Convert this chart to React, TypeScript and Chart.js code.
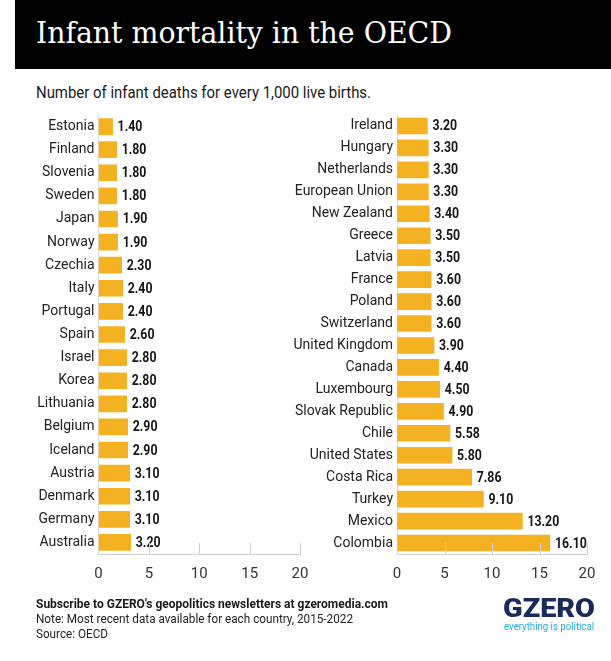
import React, { useEffect, useRef, useLayoutEffect } from "react";
import { Chart, registerables } from "chart.js";

Chart.register(...registerables);

const leftCountries = [
  "Estonia", "Finland", "Slovenia", "Sweden", "Japan", "Norway", "Czechia", "Italy", "Portugal", "Spain",
  "Israel", "Korea", "Lithuania", "Belgium", "Iceland", "Austria", "Denmark", "Germany", "Australia",
];
const leftValues = [1.4, 1.8, 1.8, 1.8, 1.9, 1.9, 2.3, 2.4, 2.4, 2.6, 2.8, 2.8, 2.8, 2.9, 2.9, 3.1, 3.1, 3.1, 3.2];

const rightCountries = [
  "Ireland", "Hungary", "Netherlands", "European Union", "New Zealand", "Greece", "Latvia", "France", "Poland",
  "Switzerland", "United Kingdom", "Canada", "Luxembourg", "Slovak Republic", "Chile", "United States",
  "Costa Rica", "Turkey", "Mexico", "Colombia",
];
const rightValues = [3.2, 3.3, 3.3, 3.3, 3.4, 3.5, 3.5, 3.6, 3.6, 3.6, 3.9, 4.4, 4.5, 4.9, 5.58, 5.8, 7.86, 9.1, 13.2, 16.1];

const xTickValues = [0, 5, 10, 15, 20];

const BAR_COLOR = "#F4B223";

const valueLabels = {
  id: "valueLabels",
  afterDatasetsDraw(chart: any) {
    const ctx = chart.ctx;
    const meta = chart.getDatasetMeta(0);
    const data = chart.data.datasets[0].data;
    ctx.save();
    ctx.font = "bold 14px Roboto";
    ctx.fillStyle = "#151515";
    ctx.textBaseline = "middle";
    ctx.textAlign = "left";
    meta.data.forEach((bar: any, i: number) => {
      ctx.save();
      ctx.translate(bar.x + 5, bar.y + 1);
      ctx.scale(0.88, 1);
      ctx.fillText(Number(data[i]).toFixed(2), 0, 0);
      ctx.restore();
    });
    ctx.restore();
  },
};

const upTicks = {
  id: "upTicks",
  afterDraw(chart: any) {
    const ctx = chart.ctx;
    const xs = chart.scales.x;
    const bottom = chart.chartArea.bottom;
    ctx.save();
    ctx.strokeStyle = "#cfcfcf";
    ctx.lineWidth = 1;
    ctx.beginPath();
    xs.ticks.forEach((t: any) => {
      if (t.value <= 0) return;
      const x = Math.round(xs.getPixelForValue(t.value)) + 0.5;
      ctx.moveTo(x, bottom - 11);
      ctx.lineTo(x, bottom);
    });
    ctx.stroke();
    ctx.restore();
  },
};

function makeChart(canvas: HTMLCanvasElement, labels: string[], values: number[], yWidth: number, padRight: number) {
  return new Chart(canvas, {
    type: "bar",
    data: {
      labels,
      datasets: [{ data: values, backgroundColor: BAR_COLOR, barThickness: 16, borderWidth: 0 }],
    },
    options: {
      indexAxis: "y",
      animation: false,
      responsive: false,
      maintainAspectRatio: false,
      layout: { padding: { top: 15, right: padRight, left: 0, bottom: 0 } },
      plugins: { legend: { display: false }, tooltip: { enabled: false } },
      scales: {
        x: {
          min: 0,
          max: 20,
          afterBuildTicks: (s: any) => {
            s.ticks = xTickValues.map((v) => ({ value: v }));
          },
          grid: { drawOnChartArea: false, drawTicks: false, color: "#cfcfcf" },
          border: { display: true, color: "#cfcfcf", width: 1 },
          ticks: { padding: 11, color: "#333", font: { family: "Roboto", size: 15 } },
          afterFit: (s: any) => {
            s.height = 46;
            s.paddingLeft = 0;
            s.paddingRight = 0;
          },
        },
        y: {
          grid: { drawOnChartArea: false, drawTicks: false },
          border: { display: true, color: "#d9d9d9", width: 1 },
          ticks: { padding: 4, color: "#222", font: { family: "Roboto", size: 14 }, autoSkip: false },
          afterFit: (s: any) => {
            s.width = yWidth;
            s.paddingTop = 0;
            s.paddingBottom = 0;
          },
        },
      },
    } as any,
    plugins: [valueLabels, upTicks],
  });
}

function BarPanel(props: { labels: string[]; values: number[]; left: number; width: number; yWidth: number; padRight: number }) {
  const ref = useRef<HTMLCanvasElement>(null);
  useEffect(() => {
    const chart = makeChart(ref.current!, props.labels, props.values, props.yWidth, props.padRight);
    return () => chart.destroy();
  }, []);
  return (
    <canvas
      ref={ref}
      width={props.width}
      height={500}
      style={{ position: "absolute", left: props.left, top: 100, width: props.width, height: 500 }}
    />
  );
}

function FitText(props: { width: number; style: React.CSSProperties; children: React.ReactNode }) {
  const ref = useRef<HTMLDivElement>(null);
  useLayoutEffect(() => {
    const el = ref.current!;
    el.style.transform = "none";
    const w = el.getBoundingClientRect().width;
    if (w > 0) el.style.transform = `scaleX(${props.width / w})`;
  }, []);
  return (
    <div
      ref={ref}
      style={{ position: "absolute", whiteSpace: "nowrap", transformOrigin: "left center", lineHeight: 1, ...props.style }}
    >
      {props.children}
    </div>
  );
}

export default function App() {
  return (
    <div style={{ position: "absolute", left: 0, top: 0, width: 611, height: 661, background: "#fff", overflow: "hidden" }}>
      <div style={{ position: "absolute", left: 15, top: 0, width: 596, height: 69, background: "#000" }} />
      <FitText width={416} style={{ left: 36, top: 17.5, fontFamily: "'DejaVu Serif'", fontSize: 30, color: "#fff" }}>
        Infant mortality in the OECD
      </FitText>
      <FitText width={335} style={{ left: 36, top: 85.2, fontFamily: "Roboto", fontSize: 16, color: "#1a1a1a" }}>
        Number of infant deaths for every 1,000 live births.
      </FitText>

      <BarPanel labels={leftCountries} values={leftValues} left={0} width={310} yWidth={98.5} padRight={10} />
      <BarPanel labels={rightCountries} values={rightValues} left={290} width={321} yWidth={107} padRight={24} />

      <FitText width={352} style={{ left: 36, top: 596.5, fontFamily: "Roboto", fontWeight: 700, fontSize: 13, color: "#1a1a1a" }}>
        Subscribe to GZERO's geopolitics newsletters at gzeromedia.com
      </FitText>
      <FitText width={317} style={{ left: 36, top: 612.8, fontFamily: "Roboto", fontSize: 12.5, color: "#222" }}>
        Note: Most recent data available for each country, 2015-2022
      </FitText>
      <FitText width={72} style={{ left: 36, top: 627.8, fontFamily: "Roboto", fontSize: 12.5, color: "#222" }}>
        Source: OECD
      </FitText>

      <FitText width={92} style={{ left: 503, top: 595.5, fontFamily: "Roboto", fontWeight: 900, fontSize: 25, color: "#1b2a5c" }}>
        GZERO
      </FitText>
      <FitText width={90} style={{ left: 504, top: 620.7, fontFamily: "Roboto", fontSize: 11, color: "#27a8e0" }}>
        everything is political
      </FitText>
    </div>
  );
}
